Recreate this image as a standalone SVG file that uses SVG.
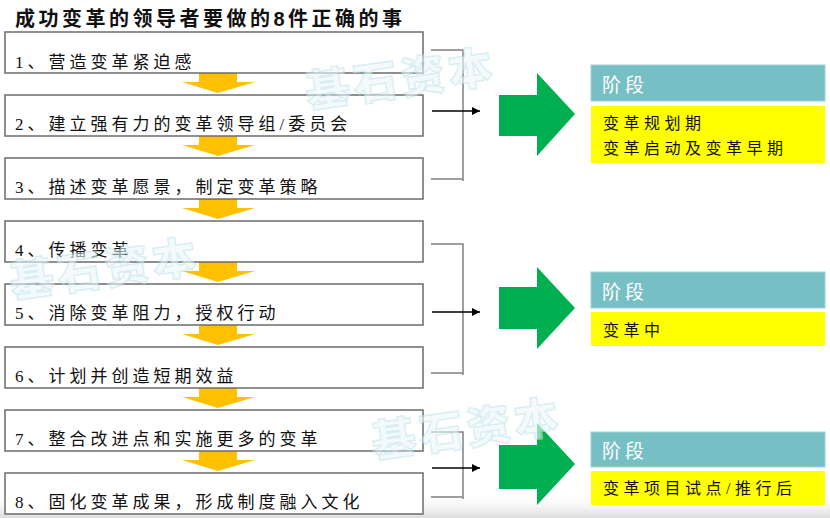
<svg xmlns="http://www.w3.org/2000/svg" width="830" height="518" viewBox="0 0 830 518">
<defs>
<style>
.box{fill:#fff;stroke:#6b6b6b;stroke-width:1.5}
.bt{font-family:"Liberation Serif","Noto Sans CJK SC",serif;font-size:17px;letter-spacing:4px;fill:#111}
.title{font-family:"Liberation Sans","Noto Sans CJK SC",sans-serif;font-size:20px;font-weight:bold;letter-spacing:3.5px;fill:#111}
.ya{fill:#FFC000}
.br{fill:none;stroke:#808080;stroke-width:1.5}
.ar{fill:none;stroke:#000;stroke-width:1.3;marker-end:url(#ah)}
.ga{fill:#00B050}
.hd{fill:#75BFC5;stroke:#9fd3d8;stroke-width:1}
.hdt{font-family:"Noto Sans CJK SC",sans-serif;font-size:19px;letter-spacing:4px;fill:#fff}
.yb{fill:#FFFF00}
.yt{font-family:"Liberation Serif","Noto Sans CJK SC",serif;font-size:16px;letter-spacing:4.5px;fill:#111}
.wm{font-family:"Noto Sans CJK SC",sans-serif;font-size:44px;font-weight:900;letter-spacing:4px;fill:#eef8fa;stroke:#bfe4ec;stroke-width:1.4;opacity:0.6}
</style>
<marker id="ah" viewBox="0 0 10 10" refX="10" refY="5" markerWidth="8" markerHeight="8" markerUnits="userSpaceOnUse" orient="auto">
<path d="M0,0 L10,5 L0,10 z" fill="#000"/>
</marker>
<linearGradient id="bot" x1="0" y1="0" x2="0" y2="1">
<stop offset="0" stop-color="#ffffff" stop-opacity="0"/>
<stop offset="1" stop-color="#d9d9d9" stop-opacity="0.9"/>
</linearGradient>
</defs>
<rect width="830" height="518" fill="#fff"/>
<rect x="0" y="492" width="830" height="26" fill="url(#bot)"/>
<text class="title" x="15" y="26">成功变革的领导者要做的8件正确的事</text>

<g id="connectors">
<g id="down-arrows">
<polygon class="ya" points="199,72 237,72 237,82 255,82 218,93 182,82 199,82"/>
<polygon class="ya" points="199,135 237,135 237,145 255,145 218,156 182,145 199,145"/>
<polygon class="ya" points="199,198 237,198 237,208 255,208 218,219 182,208 199,208"/>
<polygon class="ya" points="199,261 237,261 237,271 255,271 218,282 182,271 199,271"/>
<polygon class="ya" points="199,324 237,324 237,334 255,334 218,345 182,334 199,334"/>
<polygon class="ya" points="199,387 237,387 237,397 255,397 218,408 182,397 199,397"/>
<polygon class="ya" points="199,450 237,450 237,460 255,460 218,471 182,460 199,460"/>
</g>
<g id="brackets">
<path class="br" d="M431,50 H463 V181 M431,179 H463"/>
<path class="br" d="M431,244 H463 V375 M431,373 H463"/>
<path class="br" d="M431,432 H463 V499 M431,497 H463"/>
<line class="ar" x1="432" y1="111" x2="480" y2="111"/>
<line class="ar" x1="432" y1="312" x2="480" y2="312"/>
<line class="ar" x1="432" y1="468" x2="480" y2="468"/>
</g>
<g id="green-arrows">
<polygon class="ga" points="499,95 537,95 537,73 575,114 537,156 537,136 499,136"/>
<polygon class="ga" points="499,287 537,287 537,267 575,308 537,349 537,329 499,329"/>
<polygon class="ga" points="499,445 537,445 537,423 575,464 537,505 537,489 499,489"/>
</g>
</g>

<g id="step1"><rect class="box" x="5" y="32" width="418" height="41"/><text class="bt" x="15" y="68">1、营造变革紧迫感</text></g>
<g id="step2"><rect class="box" x="5" y="95" width="418" height="41"/><text class="bt" x="15" y="130">2、建立强有力的变革领导组/委员会</text></g>
<g id="step3"><rect class="box" x="5" y="158" width="418" height="41"/><text class="bt" x="15" y="193">3、描述变革愿景，制定变革策略</text></g>
<g id="step4"><rect class="box" x="5" y="221" width="418" height="41"/><text class="bt" x="15" y="256">4、传播变革</text></g>
<g id="step5"><rect class="box" x="5" y="284" width="418" height="41"/><text class="bt" x="15" y="319">5、消除变革阻力，授权行动</text></g>
<g id="step6"><rect class="box" x="5" y="347" width="418" height="41"/><text class="bt" x="15" y="382">6、计划并创造短期效益</text></g>
<g id="step7"><rect class="box" x="5" y="410" width="418" height="41"/><text class="bt" x="15" y="445">7、整合改进点和实施更多的变革</text></g>
<g id="step8"><rect class="box" x="5" y="473" width="418" height="41"/><text class="bt" x="15" y="508">8、固化变革成果，形成制度融入文化</text></g>

<g id="phase1">
<rect class="hd" x="591" y="65" width="234" height="36"/>
<text class="hdt" x="602" y="92">阶段</text>
<rect class="yb" x="591" y="106" width="234" height="57"/>
<text class="yt" x="603" y="129">变革规划期</text>
<text class="yt" x="603" y="154">变革启动及变革早期</text>
</g>
<g id="phase2">
<rect class="hd" x="591" y="272" width="234" height="36"/>
<text class="hdt" x="602" y="299">阶段</text>
<rect class="yb" x="591" y="312" width="234" height="34"/>
<text class="yt" x="603" y="336">变革中</text>
</g>
<g id="phase3">
<rect class="hd" x="591" y="432" width="234" height="35"/>
<text class="hdt" x="602" y="458">阶段</text>
<rect class="yb" x="591" y="471" width="234" height="34"/>
<text class="yt" x="603" y="494">变革项目试点/推行后</text>
</g>

<g id="watermarks">
<text class="wm" transform="translate(308,108) rotate(-8)">基石资本</text>
<text class="wm" transform="translate(12,298) rotate(-8)">基石资本</text>
<text class="wm" transform="translate(374,458) rotate(-8)">基石资本</text>
</g>
</svg>
